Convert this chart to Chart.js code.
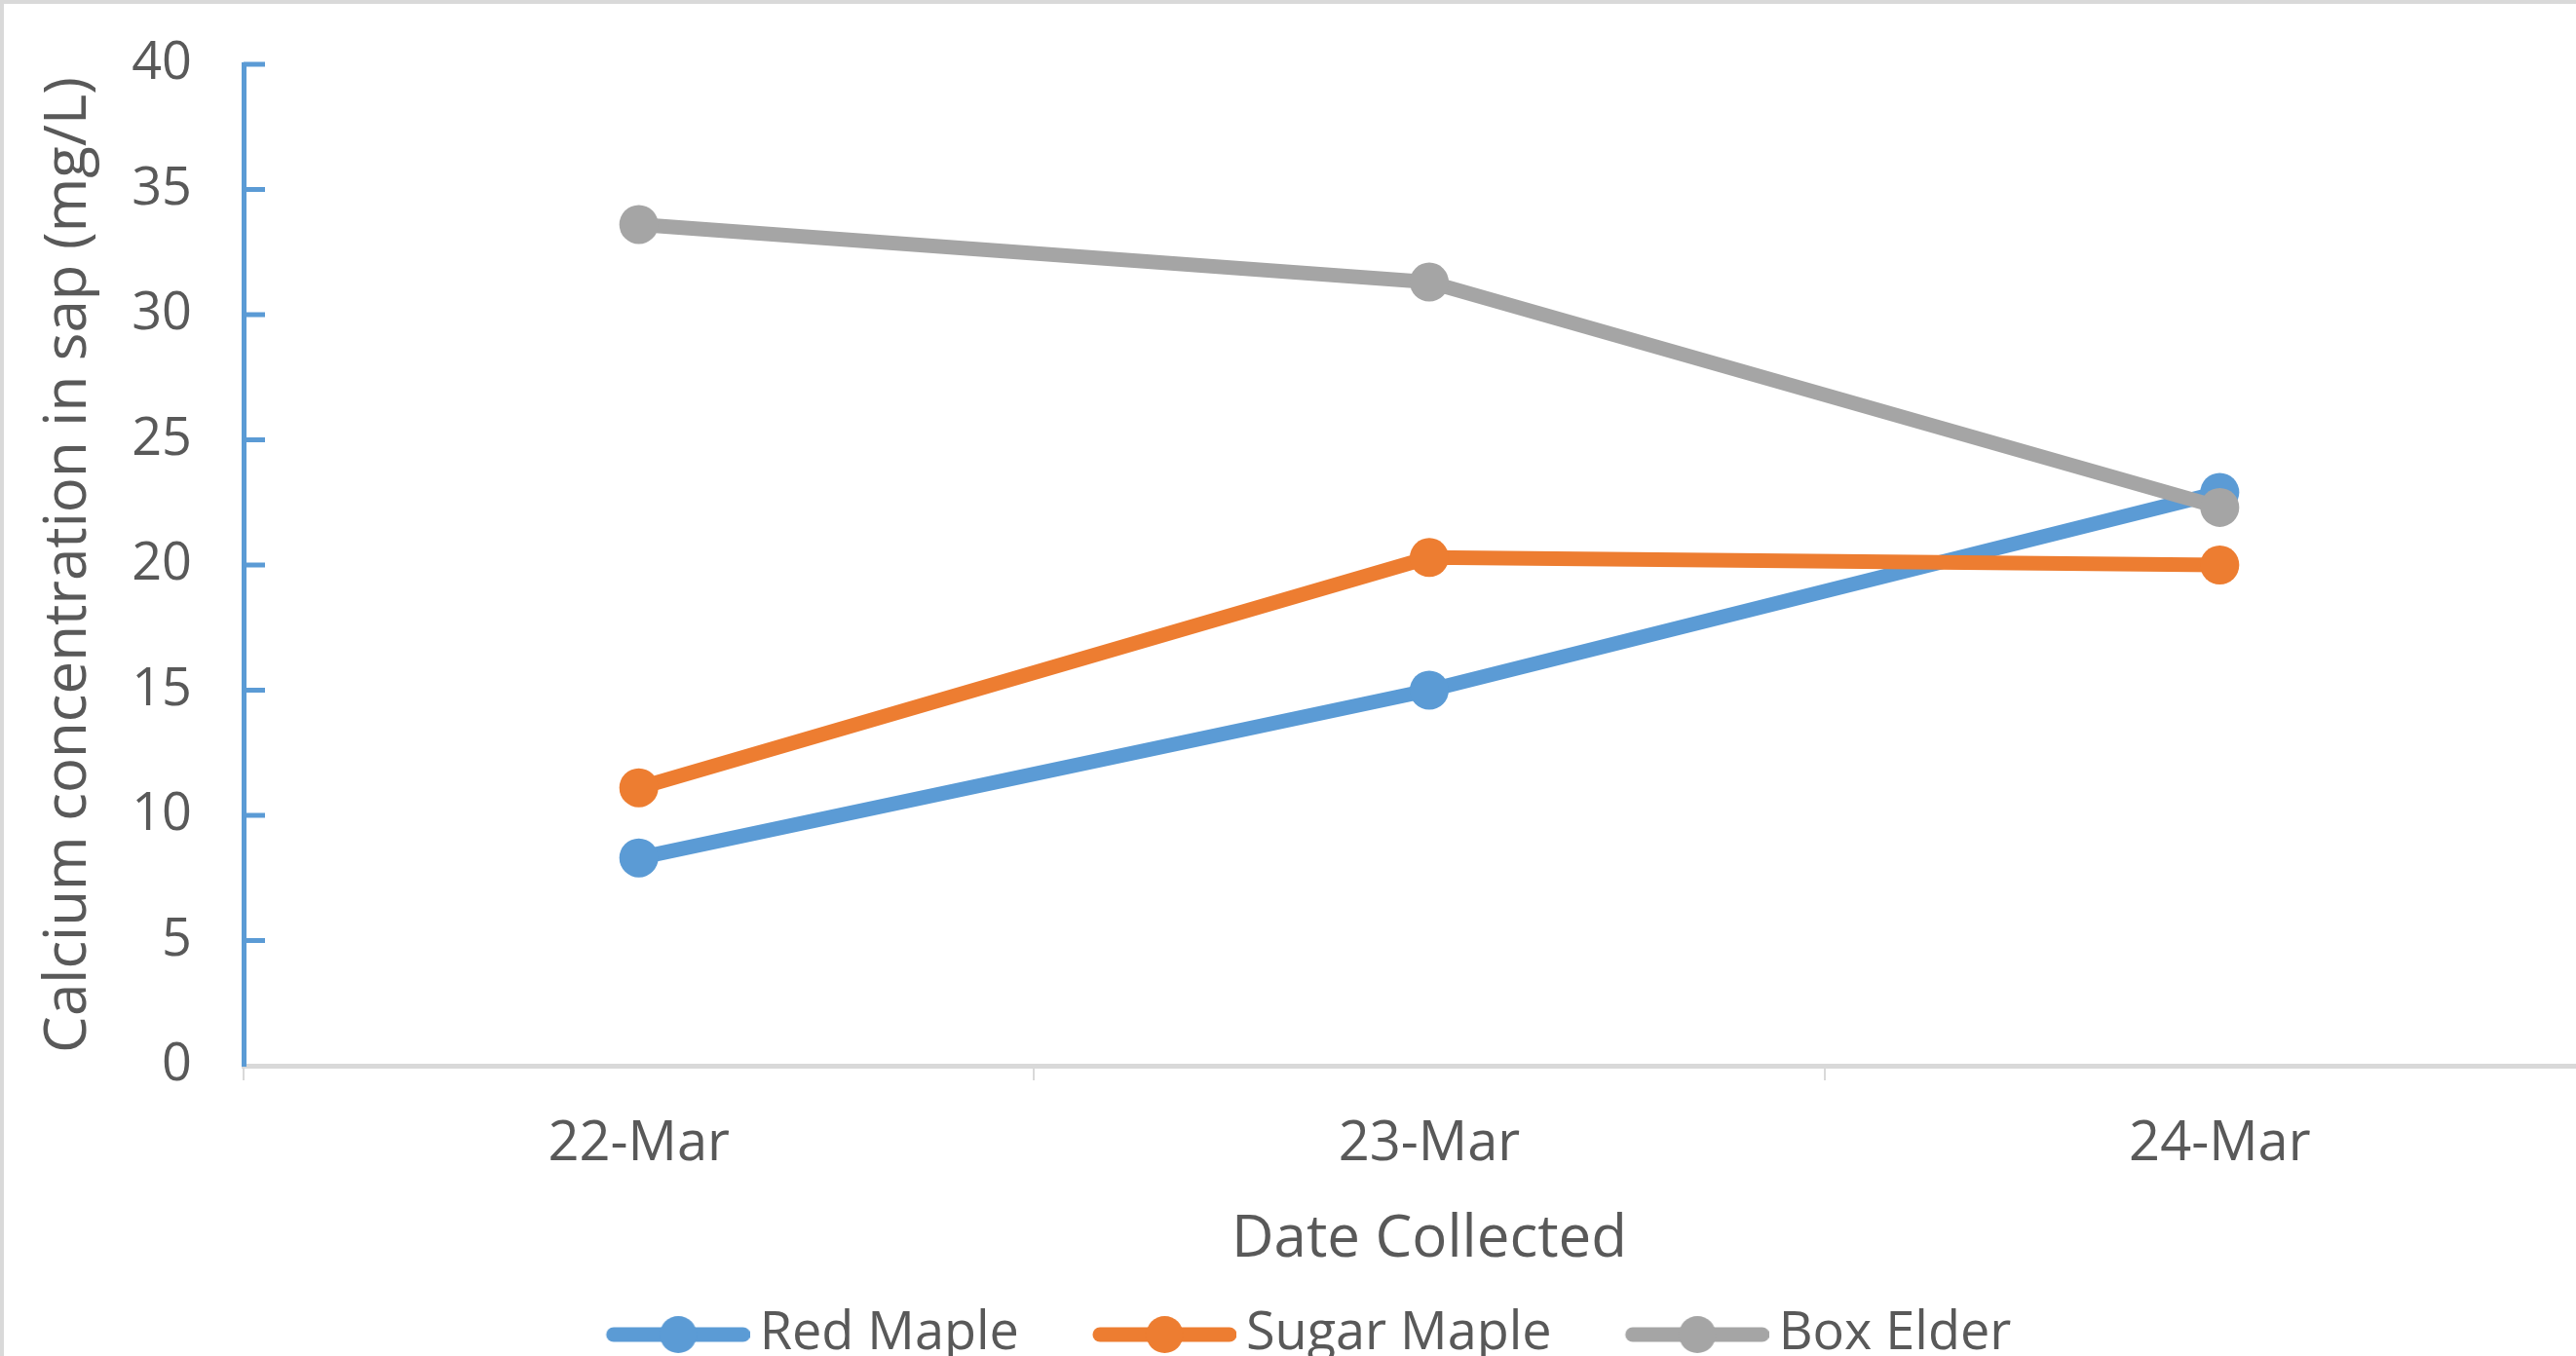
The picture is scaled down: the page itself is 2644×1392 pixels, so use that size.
<!DOCTYPE html>
<html lang="en">
<head>
  <meta charset="UTF-8">
  <title>Calcium concentration in sap</title>
  <style>
    body {
      margin: 0;
      overflow: hidden;
      background: #fff;
      font-family: 'Open Sans', sans-serif;
    }

    #chart-container {
      border-top: 4px solid #d9d9d9;
      border-left: 4px solid #d9d9d9;
      width: 2700px;
      height: 1403px;
    }
  </style>
</head>
<body>
  <div id="chart-container">
    <canvas id="lineChart" width="2700" height="1403"></canvas>
  </div>

  <script src="https://cdn.jsdelivr.net/npm/chart.js"></script>
  <script>
    // data
    const dates = ['22-Mar', '23-Mar', '24-Mar'];
    const redMaple = [8.3, 15.0, 22.9];
    const sugarMaple = [11.1, 20.3, 20.0];
    const boxElder = [33.6, 31.3, 22.3];
    const yTicks = [0, 5, 10, 15, 20, 25, 30, 35, 40];

    const FONT = 'Open Sans';
    const TEXT = '#595959';
    const colors = ['#5b9bd5', '#ed7d31', '#a5a5a5'];

    // legend marker: line with a dot, left transparent margin for spacing
    function legendIcon(color) {
      const c = document.createElement('canvas');
      c.width = 211;
      c.height = 42;
      const g = c.getContext('2d');
      g.strokeStyle = color;
      g.lineWidth = 15;
      g.lineCap = 'round';
      g.beginPath();
      g.moveTo(71, 21);
      g.lineTo(204, 21);
      g.stroke();
      g.fillStyle = color;
      g.beginPath();
      g.arc(137.5, 21, 19, 0, Math.PI * 2);
      g.fill();
      return c;
    }
    const icons = colors.map(legendIcon);

    // Excel style tick marks pointing into the plot
    const inwardTicks = {
      id: 'inwardTicks',
      afterLayout(chart) {
        // nudge the legend row a bit to the left, like the original
        chart.legend.left -= 32;
        chart.legend.right -= 32;
      },
      beforeDatasetsDraw(chart) {
        const y = chart.scales.y;
        const ctx = chart.ctx;
        const left = chart.chartArea.left;
        ctx.save();
        ctx.strokeStyle = colors[0];
        ctx.lineWidth = 5;
        y.ticks.forEach(t => {
          if (t.value === 0) return;
          const py = y.getPixelForValue(t.value);
          ctx.beginPath();
          ctx.moveTo(left, py);
          ctx.lineTo(left + 22, py);
          ctx.stroke();
        });
        ctx.restore();
      }
    };

    function series(label, data, color, order) {
      return {
        label: label,
        data: data,
        borderColor: color,
        backgroundColor: color,
        pointBackgroundColor: color,
        borderWidth: 15,
        pointRadius: 20,
        pointBorderWidth: 0,
        tension: 0,
        order: order
      };
    }

    new Chart(document.getElementById('lineChart'), {
      type: 'line',
      data: {
        labels: dates,
        datasets: [
          series('Red Maple', redMaple, colors[0], 3),
          series('Sugar Maple', sugarMaple, colors[1], 2),
          series('Box Elder', boxElder, colors[2], 1)
        ]
      },
      options: {
        responsive: false,
        animation: false,
        layout: {
          padding: { left: 0, top: 62, right: 4, bottom: 0 }
        },
        plugins: {
          legend: {
            position: 'bottom',
            labels: {
              usePointStyle: true,
              pointStyleWidth: 177,
              padding: 29,
              color: TEXT,
              font: { family: FONT, size: 54 },
              sort: (a, b) => a.datasetIndex - b.datasetIndex,
              generateLabels(chart) {
                const items = Chart.defaults.plugins.legend.labels.generateLabels(chart);
                items.forEach(it => { it.pointStyle = icons[it.datasetIndex]; });
                return items;
              }
            }
          },
          tooltip: { enabled: false }
        },
        scales: {
          x: {
            offset: true,
            grid: {
              offset: true,
              drawOnChartArea: false,
              color: '#d9d9d9',
              lineWidth: 2,
              tickLength: 15
            },
            border: { color: '#d9d9d9', width: 5 },
            ticks: {
              color: TEXT,
              font: { family: FONT, size: 56 },
              padding: 32,
              maxRotation: 0
            },
            title: {
              display: true,
              text: 'Date Collected',
              color: TEXT,
              font: { family: FONT, size: 60 },
              padding: { top: 0, bottom: 5 }
            },
            afterFit(scale) { scale.height = 220; }
          },
          y: {
            min: yTicks[0],
            max: yTicks[yTicks.length - 1],
            ticks: {
              stepSize: yTicks[1] - yTicks[0],
              padding: 3,
              color: TEXT,
              font: { family: FONT, size: 54 }
            },
            grid: {
              drawOnChartArea: false,
              drawTicks: true,
              tickLength: 50,
              tickColor: 'rgba(0,0,0,0)'
            },
            border: { color: colors[0], width: 5 },
            title: {
              display: true,
              text: 'Calcium concentration in sap (mg/L)',
              color: TEXT,
              font: { family: FONT, size: 60 },
              padding: { top: 31, bottom: 0 }
            },
            afterFit(scale) { scale.width = 246; }
          }
        }
      },
      plugins: [inwardTicks]
    });
  </script>
</body>
</html>
